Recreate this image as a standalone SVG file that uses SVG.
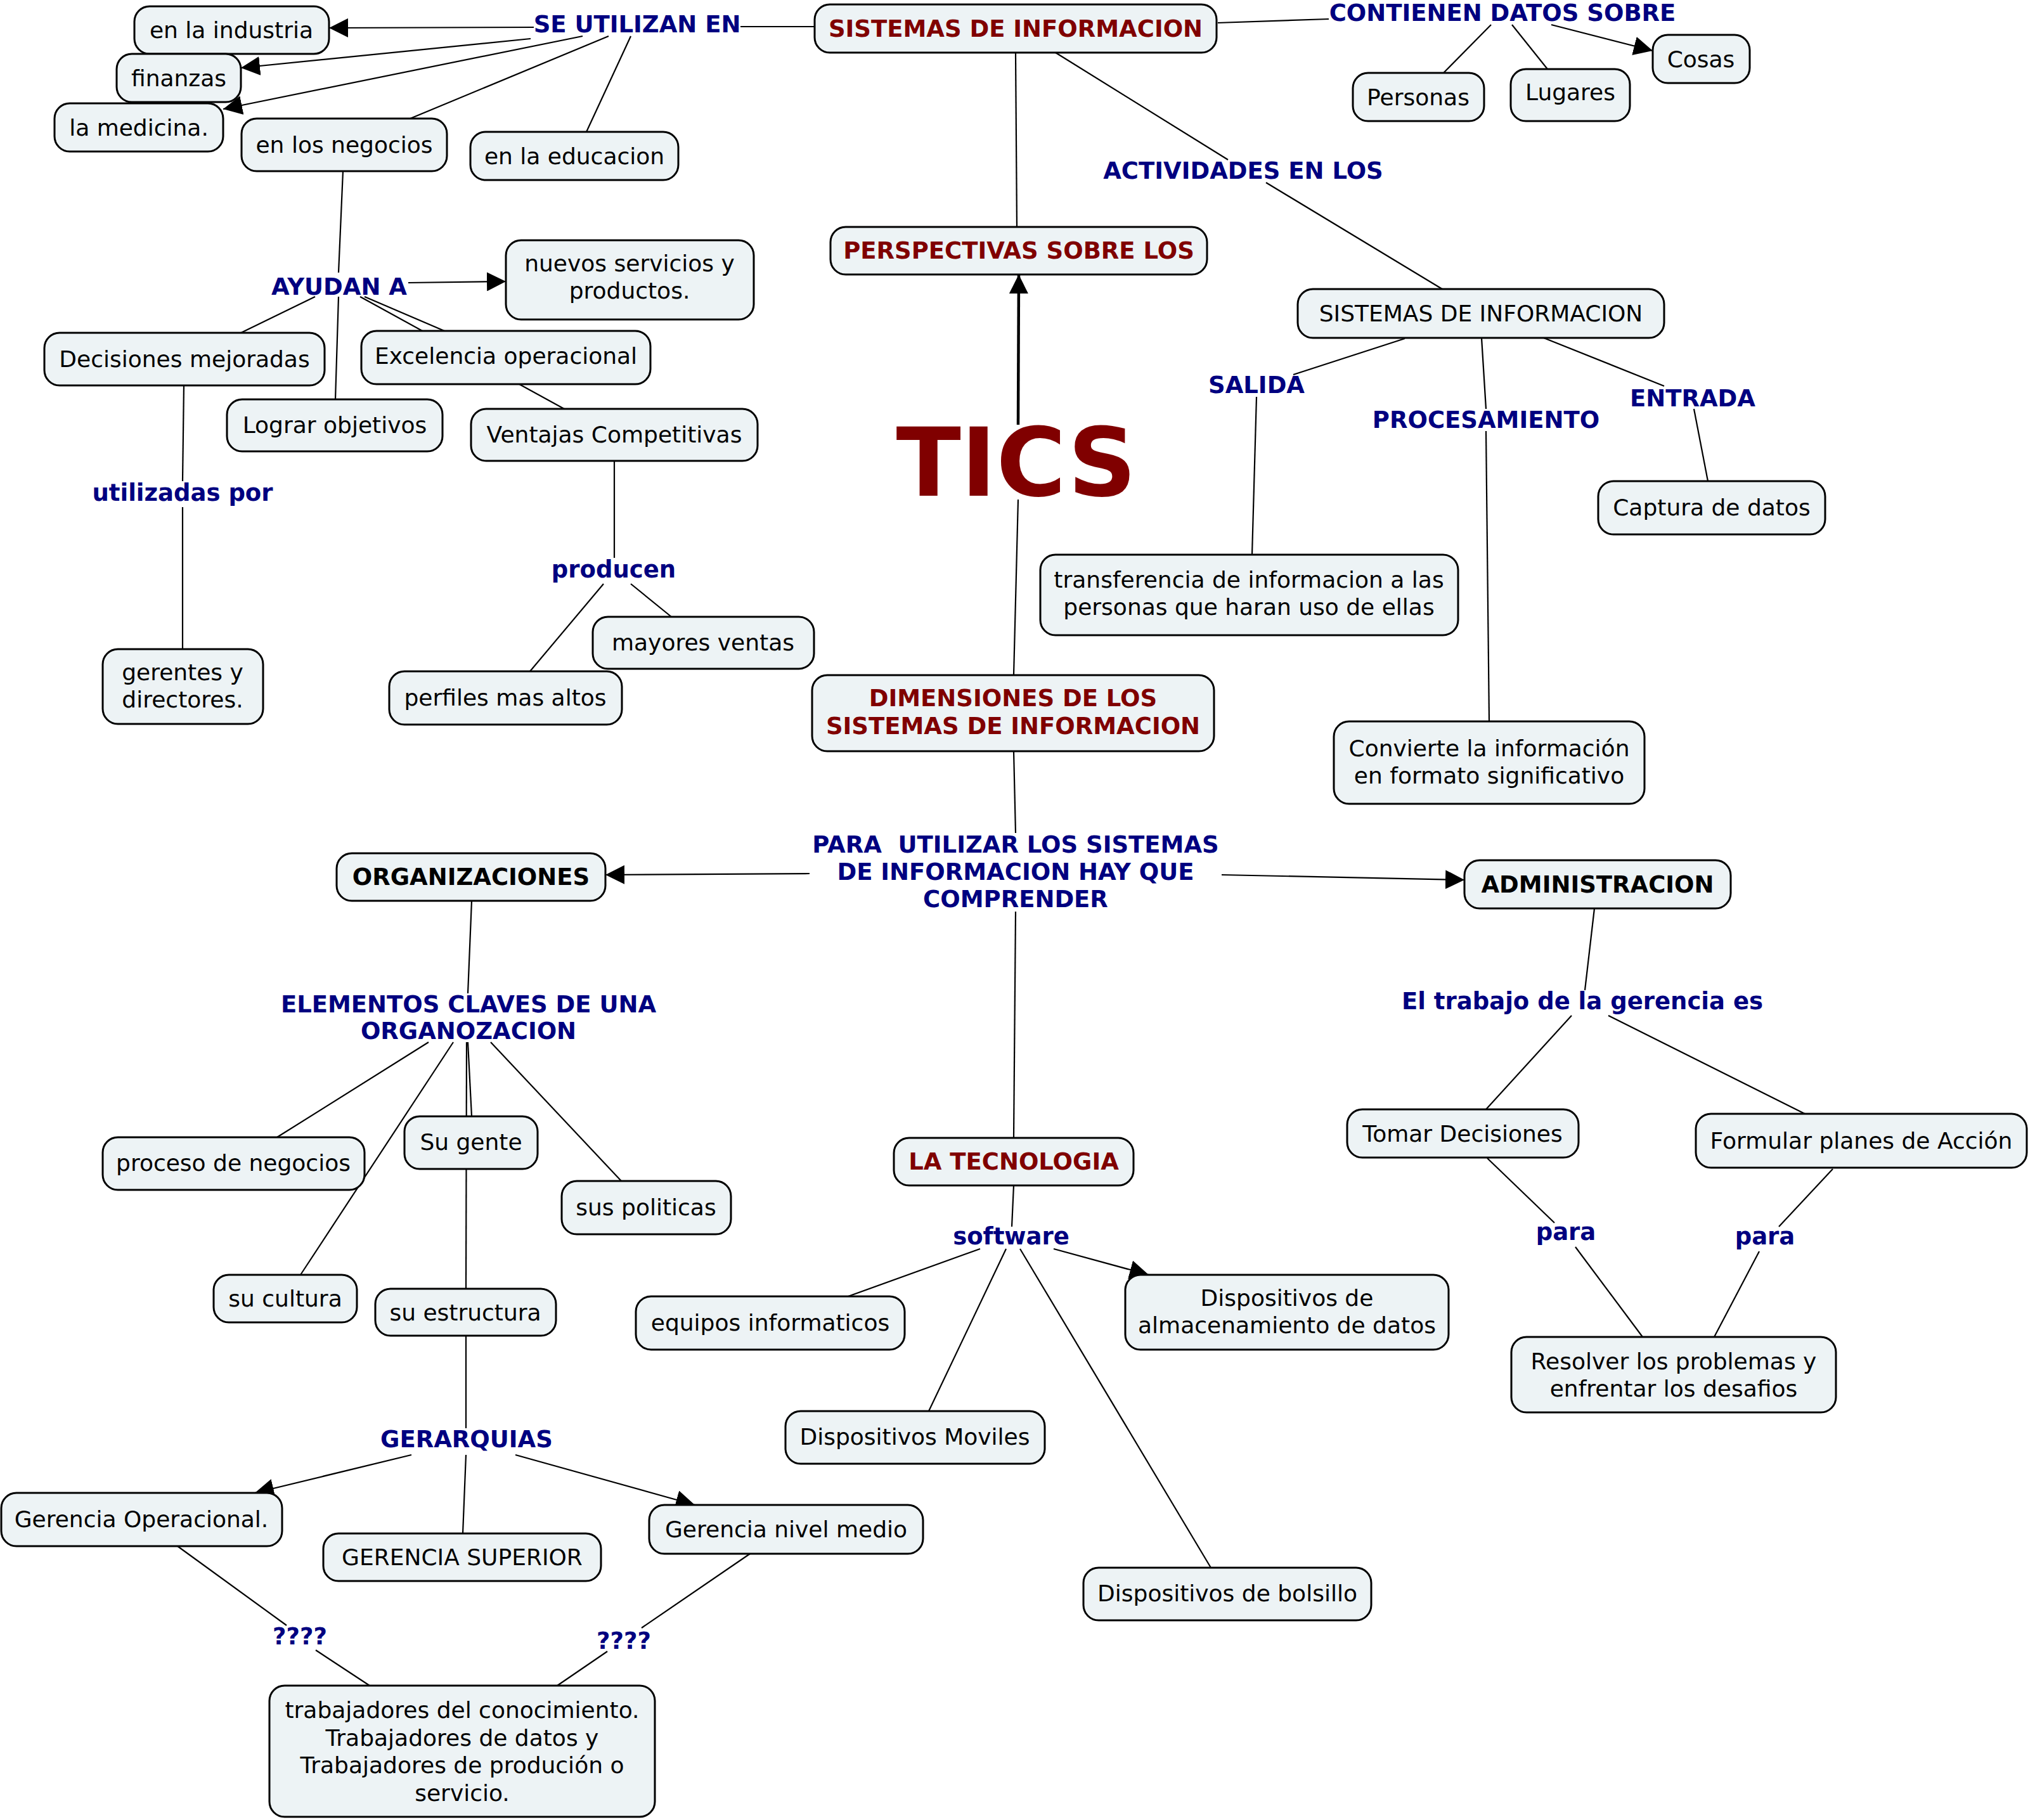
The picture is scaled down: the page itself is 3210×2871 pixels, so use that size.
<svg xmlns="http://www.w3.org/2000/svg" width="3210" height="2871" viewBox="0 0 3210 2871">
<defs>
<marker id="ah" viewBox="0 0 10 10" refX="10" refY="5" markerWidth="30" markerHeight="30" markerUnits="userSpaceOnUse" orient="auto">
<path d="M0,0 L10,5 L0,10 z" fill="#000"/>
</marker>
<style>
rect.b{fill:#edf3f5;stroke:#000;stroke-width:3}
text{font-family:"DejaVu Sans",Verdana,sans-serif;font-size:36px;text-anchor:middle}
.t{fill:#000}
.h{fill:#800000;font-weight:bold;font-size:37px}
.k{fill:#000;font-weight:bold;font-size:37px}
.l{fill:#000080;font-weight:bold;font-size:37px;white-space:pre}
#conn line{stroke:#000;stroke-width:2.2;fill:none}
#conn line.a{marker-end:url(#ah)}
</style>
</defs>
<rect width="3210" height="2871" fill="#fff"/>
<g id="conn">
<line x1="1168" y1="42" x2="1285" y2="42"/>
<line class="a" x1="842" y1="43" x2="519" y2="44"/>
<line class="a" x1="837" y1="61" x2="380" y2="107"/>
<line class="a" x1="919" y1="57" x2="352" y2="172"/>
<line x1="960" y1="57" x2="647" y2="187"/>
<line x1="995" y1="57" x2="925" y2="208"/>
<line x1="1921" y1="36" x2="2096" y2="30"/>
<line x1="2352" y1="39" x2="2277" y2="115"/>
<line x1="2385" y1="39" x2="2441" y2="109"/>
<line class="a" x1="2447" y1="39" x2="2607" y2="80"/>
<line x1="1602" y1="83" x2="1604" y2="358"/>
<line x1="1665" y1="83" x2="1937" y2="252"/>
<line x1="1997" y1="288" x2="2275" y2="456"/>
<line class="a" x1="1606" y1="670" x2="1607" y2="433" style="stroke-width:4.5"/>
<line x1="1606" y1="788" x2="1599" y2="1065"/>
<line x1="2216" y1="534" x2="2040" y2="591"/>
<line x1="1982" y1="626" x2="1975" y2="875"/>
<line x1="2337" y1="533" x2="2344" y2="645"/>
<line x1="2344" y1="680" x2="2349" y2="1138"/>
<line x1="2435" y1="533" x2="2625" y2="609"/>
<line x1="2672" y1="645" x2="2694" y2="759"/>
<line x1="541" y1="270" x2="534" y2="430"/>
<line x1="534" y1="468" x2="529" y2="630"/>
<line class="a" x1="644" y1="446" x2="798" y2="444"/>
<line x1="497" y1="468" x2="380" y2="525"/>
<line x1="575" y1="468" x2="701" y2="522"/>
<line x1="568" y1="468" x2="890" y2="645"/>
<line x1="290" y1="608" x2="288" y2="759"/>
<line x1="288" y1="800" x2="288" y2="1024"/>
<line x1="969" y1="727" x2="969" y2="880"/>
<line x1="952" y1="921" x2="836" y2="1059"/>
<line x1="995" y1="921" x2="1059" y2="973"/>
<line x1="1599" y1="1185" x2="1602" y2="1314"/>
<line class="a" x1="1277" y1="1378" x2="955" y2="1380"/>
<line class="a" x1="1927" y1="1380" x2="2310" y2="1388"/>
<line x1="1602" y1="1438" x2="1599" y2="1795"/>
<line x1="744" y1="1421" x2="738" y2="1567"/>
<line x1="676" y1="1644" x2="437" y2="1794"/>
<line x1="715" y1="1644" x2="474" y2="2011"/>
<line x1="736" y1="1644" x2="735" y2="2033"/>
<line x1="738" y1="1644" x2="744" y2="1761"/>
<line x1="774" y1="1644" x2="980" y2="1863"/>
<line x1="735" y1="2107" x2="735" y2="2253"/>
<line class="a" x1="649" y1="2295" x2="402" y2="2355"/>
<line x1="735" y1="2295" x2="730" y2="2419"/>
<line class="a" x1="813" y1="2295" x2="1096" y2="2374"/>
<line x1="280" y1="2439" x2="452" y2="2564"/>
<line x1="498" y1="2603" x2="583" y2="2659"/>
<line x1="1183" y1="2451" x2="1012" y2="2568"/>
<line x1="958" y1="2605" x2="879" y2="2659"/>
<line x1="2515" y1="1433" x2="2500" y2="1562"/>
<line x1="2479" y1="1602" x2="2344" y2="1750"/>
<line x1="2537" y1="1602" x2="2847" y2="1757"/>
<line x1="2346" y1="1827" x2="2452" y2="1929"/>
<line x1="2485" y1="1967" x2="2591" y2="2109"/>
<line x1="2891" y1="1844" x2="2806" y2="1935"/>
<line x1="2775" y1="1974" x2="2704" y2="2109"/>
<line x1="1599" y1="1870" x2="1596" y2="1935"/>
<line x1="1546" y1="1970" x2="1335" y2="2046"/>
<line x1="1587" y1="1970" x2="1465" y2="2226"/>
<line x1="1609" y1="1970" x2="1910" y2="2473"/>
<line class="a" x1="1662" y1="1970" x2="1812" y2="2011"/>
</g>
<g id="n-industria"><rect class="b" x="212" y="10" width="307" height="75" rx="24"/><text class="t" x="365" y="60">en la industria</text></g>
<g id="n-finanzas"><rect class="b" x="184" y="85" width="196" height="76" rx="24"/><text class="t" x="282" y="136">finanzas</text></g>
<g id="n-medicina"><rect class="b" x="86" y="163" width="266" height="76" rx="24"/><text class="t" x="219" y="214">la medicina.</text></g>
<g id="n-negocios"><rect class="b" x="381" y="187" width="324" height="83" rx="24"/><text class="t" x="543" y="241">en los negocios</text></g>
<g id="n-educacion"><rect class="b" x="742" y="208" width="328" height="76" rx="24"/><text class="t" x="906" y="259">en la educacion</text></g>
<g id="n-sistemas"><rect class="b" x="1285" y="7" width="634" height="76" rx="24"/><text class="h" x="1602" y="58">SISTEMAS DE INFORMACION</text></g>
<g id="n-personas"><rect class="b" x="2134" y="115" width="207" height="76" rx="24"/><text class="t" x="2237" y="166">Personas</text></g>
<g id="n-lugares"><rect class="b" x="2383" y="109" width="188" height="82" rx="24"/><text class="t" x="2477" y="158">Lugares</text></g>
<g id="n-cosas"><rect class="b" x="2607" y="55" width="153" height="76" rx="24"/><text class="t" x="2683" y="106">Cosas</text></g>
<g id="n-perspectivas"><rect class="b" x="1310" y="358" width="594" height="75" rx="24"/><text class="h" x="1607" y="408">PERSPECTIVAS SOBRE LOS</text></g>
<g id="n-sistemas2"><rect class="b" x="2047" y="456" width="578" height="77" rx="24"/><text class="t" x="2336" y="507">SISTEMAS DE INFORMACION</text></g>
<g id="n-nuevos"><rect class="b" x="798" y="379" width="391" height="125" rx="24"/><text class="t" x="993" y="428">nuevos servicios y</text><text class="t" x="993" y="471">productos.</text></g>
<g id="n-decisiones"><rect class="b" x="70" y="525" width="442" height="83" rx="24"/><text class="t" x="291" y="579">Decisiones mejoradas</text></g>
<g id="n-excelencia"><rect class="b" x="570" y="522" width="456" height="84" rx="24"/><text class="t" x="798" y="574">Excelencia operacional</text></g>
<g id="n-lograr"><rect class="b" x="358" y="630" width="340" height="82" rx="24"/><text class="t" x="528" y="683">Lograr objetivos</text></g>
<g id="n-ventajas"><rect class="b" x="743" y="645" width="452" height="82" rx="24"/><text class="t" x="969" y="698">Ventajas Competitivas</text></g>
<g id="n-gerentes"><rect class="b" x="162" y="1024" width="253" height="118" rx="24"/><text class="t" x="288" y="1073">gerentes y</text><text class="t" x="288" y="1116">directores.</text></g>
<g id="n-mayores"><rect class="b" x="935" y="973" width="349" height="82" rx="24"/><text class="t" x="1109" y="1026">mayores ventas</text></g>
<g id="n-perfiles"><rect class="b" x="614" y="1059" width="367" height="84" rx="24"/><text class="t" x="797" y="1113">perfiles mas altos</text></g>
<g id="n-transferencia"><rect class="b" x="1641" y="875" width="659" height="127" rx="24"/><text class="t" x="1970" y="927">transferencia de informacion a las</text><text class="t" x="1970" y="970">personas que haran uso de ellas</text></g>
<g id="n-captura"><rect class="b" x="2521" y="759" width="358" height="84" rx="24"/><text class="t" x="2700" y="813">Captura de datos</text></g>
<g id="n-dimensiones"><rect class="b" x="1281" y="1065" width="634" height="120" rx="24"/><text class="h" x="1598" y="1114">DIMENSIONES DE LOS</text><text class="h" x="1598" y="1158">SISTEMAS DE INFORMACION</text></g>
<g id="n-convierte"><rect class="b" x="2104" y="1138" width="490" height="130" rx="24"/><text class="t" x="2349" y="1193">Convierte la información</text><text class="t" x="2349" y="1236">en formato significativo</text></g>
<g id="n-organizaciones"><rect class="b" x="531" y="1346" width="424" height="75" rx="24"/><text class="k" x="743" y="1396">ORGANIZACIONES</text></g>
<g id="n-administracion"><rect class="b" x="2310" y="1357" width="420" height="76" rx="24"/><text class="k" x="2520" y="1408">ADMINISTRACION</text></g>
<g id="n-proceso"><rect class="b" x="162" y="1794" width="413" height="83" rx="24"/><text class="t" x="368" y="1847">proceso de negocios</text></g>
<g id="n-sugente"><rect class="b" x="638" y="1761" width="210" height="83" rx="24"/><text class="t" x="743" y="1814">Su gente</text></g>
<g id="n-politicas"><rect class="b" x="886" y="1863" width="267" height="84" rx="24"/><text class="t" x="1019" y="1917">sus politicas</text></g>
<g id="n-cultura"><rect class="b" x="337" y="2011" width="226" height="75" rx="24"/><text class="t" x="450" y="2061">su cultura</text></g>
<g id="n-estructura"><rect class="b" x="592" y="2033" width="285" height="74" rx="24"/><text class="t" x="734" y="2083">su estructura</text></g>
<g id="n-equipos"><rect class="b" x="1003" y="2045" width="424" height="84" rx="24"/><text class="t" x="1215" y="2099">equipos informaticos</text></g>
<g id="n-tecnologia"><rect class="b" x="1410" y="1795" width="378" height="75" rx="24"/><text class="h" x="1599" y="1845">LA TECNOLOGIA</text></g>
<g id="n-almacenamiento"><rect class="b" x="1775" y="2011" width="510" height="118" rx="24"/><text class="t" x="2030" y="2060">Dispositivos de</text><text class="t" x="2030" y="2103">almacenamiento de datos</text></g>
<g id="n-moviles"><rect class="b" x="1239" y="2226" width="409" height="83" rx="24"/><text class="t" x="1443" y="2279">Dispositivos Moviles</text></g>
<g id="n-bolsillo"><rect class="b" x="1709" y="2473" width="454" height="83" rx="24"/><text class="t" x="1936" y="2526">Dispositivos de bolsillo</text></g>
<g id="n-tomar"><rect class="b" x="2125" y="1750" width="365" height="76" rx="24"/><text class="t" x="2307" y="1801">Tomar Decisiones</text></g>
<g id="n-formular"><rect class="b" x="2675" y="1757" width="522" height="85" rx="24"/><text class="t" x="2936" y="1812">Formular planes de Acción</text></g>
<g id="n-resolver"><rect class="b" x="2384" y="2109" width="512" height="119" rx="24"/><text class="t" x="2640" y="2160">Resolver los problemas y</text><text class="t" x="2640" y="2203">enfrentar los desafios</text></g>
<g id="n-operacional"><rect class="b" x="2" y="2355" width="443" height="84" rx="24"/><text class="t" x="223" y="2409">Gerencia Operacional.</text></g>
<g id="n-superior"><rect class="b" x="510" y="2419" width="438" height="75" rx="24"/><text class="t" x="729" y="2469">GERENCIA SUPERIOR</text></g>
<g id="n-medio"><rect class="b" x="1024" y="2374" width="432" height="77" rx="24"/><text class="t" x="1240" y="2425">Gerencia nivel medio</text></g>
<g id="n-trabajadores"><rect class="b" x="425" y="2659" width="608" height="207" rx="24"/><text class="t" x="729" y="2710">trabajadores del conocimiento.</text><text class="t" x="729" y="2754">Trabajadores de datos y</text><text class="t" x="729" y="2797">Trabajadores de produción o</text><text class="t" x="729" y="2841">servicio.</text></g>
<g id="labels">
<text class="l" x="1005" y="51">SE UTILIZAN EN</text>
<text class="l" x="2370" y="33">CONTIENEN DATOS SOBRE</text>
<text class="l" x="1961" y="282">ACTIVIDADES EN LOS</text>
<text class="l" x="535" y="465">AYUDAN A</text>
<text class="l" x="1982" y="620">SALIDA</text>
<text class="l" x="2344" y="675">PROCESAMIENTO</text>
<text class="l" x="2670" y="641">ENTRADA</text>
<text class="l" x="288" y="790">utilizadas por</text>
<text class="l" x="968" y="911">producen</text>
<text class="l" x="1602" y="1345">PARA  UTILIZAR LOS SISTEMAS</text>
<text class="l" x="1602" y="1388">DE INFORMACION HAY QUE</text>
<text class="l" x="1602" y="1431">COMPRENDER</text>
<text class="l" x="739" y="1597">ELEMENTOS CLAVES DE UNA</text>
<text class="l" x="739" y="1639">ORGANOZACION</text>
<text class="l" x="2496" y="1592">El trabajo de la gerencia es</text>
<text class="l" x="2470" y="1956">para</text>
<text class="l" x="2784" y="1963">para</text>
<text class="l" x="1595" y="1963">software</text>
<text class="l" x="736" y="2283">GERARQUIAS</text>
<text class="l" x="473" y="2594">????</text>
<text class="l" x="984" y="2601">????</text>
</g>
<g id="n-tics"><text x="1603" y="782" style="font-size:150px;font-weight:bold;fill:#800000">TICS</text></g>
</svg>
